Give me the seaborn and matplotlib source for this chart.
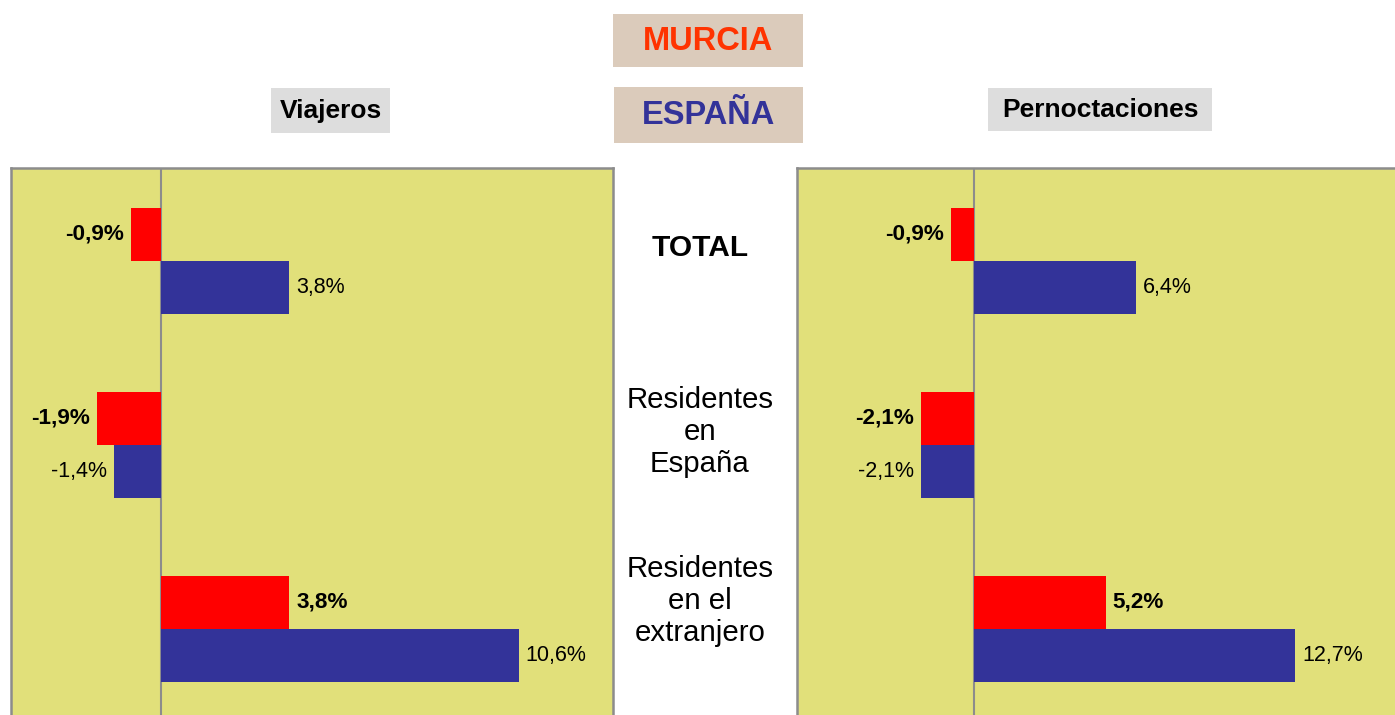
import pandas as pd
import matplotlib
matplotlib.use("Agg")
import matplotlib.pyplot as plt
import matplotlib.patches as patches
import seaborn as sns

# datos
categorias = ["TOTAL", "Residentes en España", "Residentes en el extranjero"]
series = ["Murcia", "España"]
viajeros_murcia = [-0.9, -1.9, 3.8]
viajeros_espana = [3.8, -1.4, 10.6]
pernoct_murcia = [-0.9, -2.1, 5.2]
pernoct_espana = [6.4, -2.1, 12.7]
etiquetas_centro = ["TOTAL", "Residentes\nen\nEspaña", "Residentes\nen el\nextranjero"]

colores = {"Murcia": "#FF0000", "España": "#333399"}
fondo = "#E1E07A"
gris = "#8C8C8C"

sns.set_style("white")
plt.rcParams["font.family"] = ["Liberation Sans", "DejaVu Sans"]
plt.rcParams["text.color"] = "black"


def tabla(murcia, espana):
    filas = []
    for c, m, e in zip(categorias, murcia, espana):
        filas.append({"categoria": c, "serie": "Murcia", "valor": m})
        filas.append({"categoria": c, "serie": "España", "valor": e})
    return pd.DataFrame(filas)


def panel(ax, df, xlim):
    sns.barplot(data=df, y="categoria", x="valor", hue="serie", order=categorias,
                hue_order=series, palette=colores, orient="h", width=0.576,
                saturation=1, legend=False, linewidth=0, ax=ax)
    ax.set_facecolor(fondo)
    ax.set_xlim(*xlim)
    ax.set_ylim(2.468, -0.505)
    ax.axvline(0, color=gris, lw=1.5, zorder=0.5)
    ax.set_xticks([])
    ax.set_yticks([])
    ax.set_xlabel("")
    ax.set_ylabel("")
    for s in ["top", "left", "right"]:
        ax.spines[s].set_color(gris)
        ax.spines[s].set_linewidth(1.8)
    ax.spines["bottom"].set_visible(False)
    for cont, serie in zip(ax.containers, series):
        vals = [b.get_width() for b in cont]
        labels = [f"{v:.1f}%".replace(".", ",") for v in vals]
        if serie == "Murcia":
            ax.bar_label(cont, labels=labels, padding=5, fontsize=16.2,
                         fontweight="bold", color="black")
        else:
            ax.bar_label(cont, labels=labels, padding=5, fontsize=15.5,
                         color="black")


W, H = 1395, 715
fig = plt.figure(figsize=(W / 100, H / 100), dpi=100)

ax1 = fig.add_axes([11 / W, 0, 602 / W, 1 - 168 / H])
panel(ax1, tabla(viajeros_murcia, viajeros_espana), (-4.444, 13.393))

ax2 = fig.add_axes([797 / W, 0, 602 / W, 1 - 168 / H])
panel(ax2, tabla(pernoct_murcia, pernoct_espana), (-6.996, 16.80))


def caja(x0, y0, x1, y1, color):
    fig.patches.append(patches.Rectangle((x0 / W, 1 - y1 / H), (x1 - x0) / W, (y1 - y0) / H,
                                         transform=fig.transFigure, facecolor=color,
                                         edgecolor="none", zorder=0))


caja(613, 14, 803, 67, "#DBCBBB")
caja(614, 87, 803, 143, "#DBCBBB")
caja(271, 88, 390, 133, "#DDDDDD")
caja(988, 88, 1212, 131, "#DDDDDD")

fig.text(708 / W, 1 - 41 / H, "MURCIA", ha="center", va="center", fontsize=23.5,
         fontweight="bold", color="#FF3300")
fig.text(708 / W, 1 - 115 / H, "ESPAÑA", ha="center", va="center", fontsize=23.5,
         fontweight="bold", color="#333399")
fig.text(330.5 / W, 1 - 111 / H, "Viajeros", ha="center", va="center", fontsize=19,
         fontweight="bold")
fig.text(1100 / W, 1 - 110 / H, "Pernoctaciones", ha="center", va="center", fontsize=19,
         fontweight="bold")

ys = [248, 432, 601]
for i, (txt, y) in enumerate(zip(etiquetas_centro, ys)):
    fig.text(700 / W, 1 - y / H, txt, ha="center", va="center",
             fontsize=21.5 if i == 0 else 21.2,
             fontweight="bold" if i == 0 else "normal", linespacing=1.2)

fig.savefig("out.png", dpi=100)
